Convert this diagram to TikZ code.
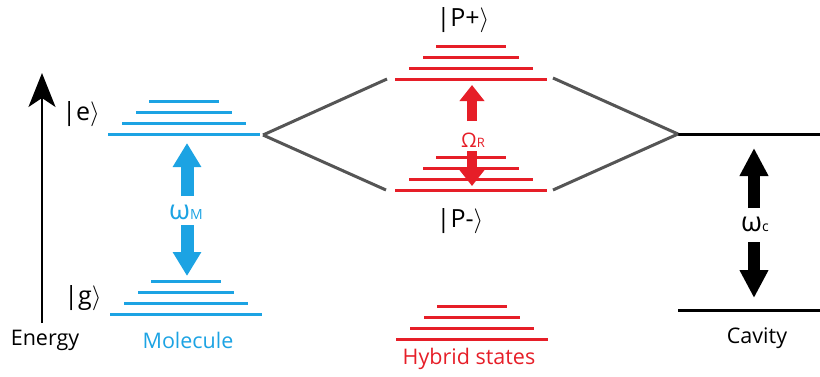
\documentclass[tikz,border=0pt]{standalone}
\usepackage{fontspec}
\setmainfont{Open Sans}
\usetikzlibrary{arrows.meta}
\definecolor{molblue}{RGB}{28,163,227}
\definecolor{hybred}{RGB}{230,30,40}
\definecolor{linkgray}{RGB}{85,85,85}
\tikzset{
  level/.style={line width=3pt},
  link/.style={line width=3pt,linkgray},
  ket/.style={font=\fontsize{25}{27}\selectfont},
  caption/.style={font=\fontsize{21.5}{24}\selectfont},
  freq/.style={font=\fontsize{27}{29}\selectfont},
  bigarrow/.style={line width=13pt,-{Triangle[length=24pt,width=27pt]}},
  smallarrow/.style={line width=10pt,-{Triangle[length=16pt,width=24pt]}},
}
% four stacked levels: x centre, y of lowest line, colour
\newcommand{\levelstack}[3]{%
  \foreach \hw [count=\i from 0] in {76,62,48,35}
    \draw[level,#3] (#1-\hw,#2-11*\i) -- (#1+\hw,#2-11*\i);}

\begin{document}
\begin{tikzpicture}[x=1pt,y=-1pt]
\useasboundingbox (0,0) rectangle (820,376);
% energy axis
\coordinate (eaxisB) at (42,323);
\coordinate (eaxisT) at (42,73);
\draw[line width=2.2pt,-{Stealth[length=34pt,width=27pt,inset=9pt]}] (eaxisB) -- (eaxisT);
\node[caption] (energy) at (45,340) {Energy};

% molecule
\levelstack{184}{134}{molblue}
\levelstack{186}{314}{molblue}
\node[ket] (kete) at (81,114) {|e$\rangle$};
\node[ket] (ketg) at (83,298) {|g$\rangle$};
\node[freq,molblue] (wm) at (186,212) {ω\fontsize{14}{14}\selectfont M};
\coordinate (wmUpB) at (187,196);
\coordinate (wmUpT) at (187,143);
\coordinate (wmDnT) at (187,225);
\coordinate (wmDnB) at (187,276);
\draw[bigarrow,molblue] (wmUpB) -- (wmUpT);
\draw[bigarrow,molblue] (wmDnT) -- (wmDnB);
\node[caption,molblue] (molecule) at (188,340) {Molecule};

% hybrid states
\levelstack{471}{79}{hybred}
\levelstack{471}{190}{hybred}
\levelstack{472}{339}{hybred}
\node[ket] (ketpp) at (463,20) {|P+$\rangle$};
\node[ket] (ketpm) at (460,221) {|P-$\rangle$};
\node[hybred,font=\fontsize{20}{22}\selectfont] (wr) at (473,140) {Ω\fontsize{13}{13}\selectfont R};
\coordinate (wrUpB) at (472,121);
\coordinate (wrUpT) at (472,85);
\coordinate (wrDnT) at (472,151);
\coordinate (wrDnB) at (472,186);
\draw[smallarrow,hybred] (wrUpB) -- (wrUpT);
\draw[smallarrow,hybred] (wrDnT) -- (wrDnB);
\node[caption,hybred] (hybrid) at (469,359) {Hybrid states};

% cavity
\coordinate (cavTL) at (678,134);
\coordinate (cavTR) at (820,134);
\coordinate (cavBL) at (678,310);
\coordinate (cavBR) at (820,310);
\draw[level] (cavTL) -- (cavTR);
\draw[level] (cavBL) -- (cavBR);
\node[freq] (wc) at (755,224) {ω\fontsize{14}{14}\selectfont c};
\coordinate (wcUpB) at (754,208);
\coordinate (wcUpT) at (754,148);
\coordinate (wcDnT) at (754,242);
\coordinate (wcDnB) at (754,298);
\draw[bigarrow,line width=12pt,-{Triangle[length=28pt,width=27pt]}] (wcUpB) -- (wcUpT);
\draw[bigarrow,line width=12pt,-{Triangle[length=28pt,width=27pt]}] (wcDnT) -- (wcDnB);
\node[caption] (cavity) at (757,338) {Cavity};

% couplings
\coordinate (molR) at (263,135);
\coordinate (ppL) at (387,79);
\coordinate (pmL) at (386,190);
\coordinate (ppR) at (553,78);
\coordinate (pmR) at (553,190);
\draw[link] (molR) -- (ppL);
\draw[link] (molR) -- (pmL);
\draw[link] (ppR) -- (cavTL);
\draw[link] (pmR) -- (cavTL);
\end{tikzpicture}
\end{document}
